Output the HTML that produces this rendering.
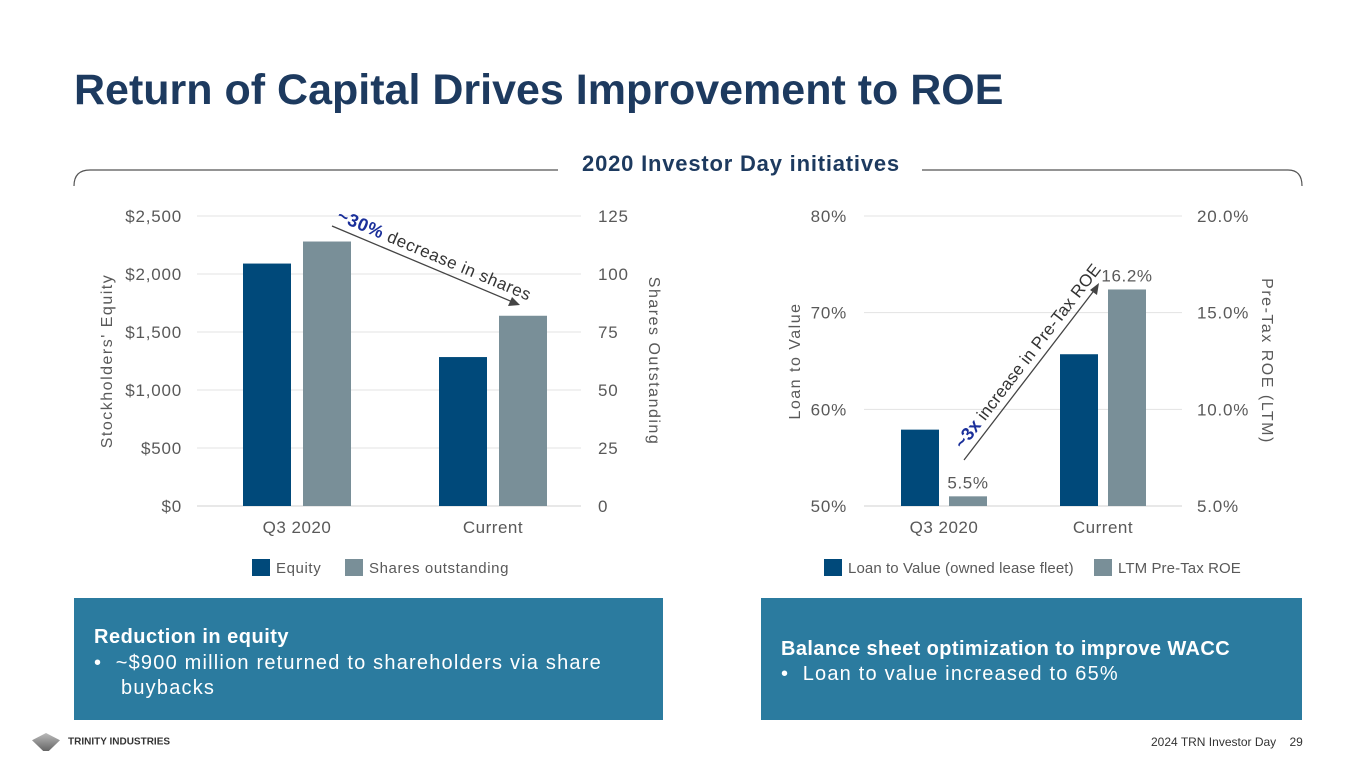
<!DOCTYPE html>
<html><head><meta charset="utf-8"><style>
body{margin:0;width:1365px;height:768px;background:#fff;font-family:"Liberation Sans",sans-serif;overflow:hidden;position:relative}
.t{position:absolute;white-space:nowrap}
</style></head><body>
<div class="t" style="left:74px;top:66px;font-size:43px;font-weight:bold;color:#1d3a5f">Return of Capital Drives Improvement to ROE</div>
<svg width="1365" height="768" style="position:absolute;left:0;top:0" id="s">
<g fill="none" stroke="#555" stroke-width="1.2">
<path d="M74,186 Q74,170 90,170 L558,170"/><path d="M922,170 L1288,170 Q1302,170 1302,186"/>
</g>
<text x="741" y="171" text-anchor="middle" font-size="22" font-weight="bold" letter-spacing="0.8" fill="#1d3a5f">2020 Investor Day initiatives</text>
<g id="c1"></g><g id="c2"></g>
<g>
<line x1="332" y1="226" x2="515" y2="303" stroke="#444" stroke-width="1.3"/>
<polygon points="520,305 508,306 512,297" fill="#444"/>
<text transform="translate(336,220) rotate(22.8)" font-size="17" letter-spacing="0.6" fill="#333"><tspan font-weight="bold" fill="#1a2f9a" font-size="18">~30%</tspan> decrease in shares</text>
</g>
<g>
<line x1="964" y1="460" x2="1096" y2="288" stroke="#444" stroke-width="1.3"/>
<polygon points="1099,283 1097,295 1090,290" fill="#444"/>
<text transform="translate(963,450) rotate(-52.5)" font-size="17" letter-spacing="0.2" fill="#333"><tspan font-weight="bold" fill="#1a2f9a" font-size="18">~3x</tspan> increase in Pre-Tax ROE</text>
</g>
</svg>
<div style="position:absolute;left:74px;top:598px;width:589px;height:122px;background:#2b7b9f;color:#fff;font-size:20px;letter-spacing:1.2px">
<div style="position:absolute;left:20px;top:28px;font-weight:bold;letter-spacing:0.5px">Reduction in equity</div>
<div style="position:absolute;left:20px;top:53px;line-height:25px;white-space:nowrap">•&nbsp;&nbsp;~$900 million returned to shareholders via share<br>&nbsp;&nbsp;&nbsp;&nbsp;buybacks</div></div>
<div style="position:absolute;left:761px;top:598px;width:541px;height:122px;background:#2b7b9f;color:#fff;font-size:20px;letter-spacing:1.2px">
<div style="position:absolute;left:20px;top:40px;font-weight:bold;letter-spacing:0.4px;white-space:nowrap">Balance sheet optimization to improve WACC</div>
<div style="position:absolute;left:20px;top:65px">•&nbsp;&nbsp;Loan to value increased to 65%</div></div>
<div class="t" style="left:32px;top:733px;font-size:10px;font-weight:bold;color:#333"><span style="display:inline-block;width:28px;height:18px;vertical-align:middle;background:linear-gradient(#bbb,#666);clip-path:polygon(0 40%,50% 0,100% 40%,60% 100%,40% 100%);margin-right:8px"></span>TRINITY INDUSTRIES</div>
<div class="t" style="left:1151px;top:735px;font-size:12px;color:#333">2024 TRN Investor Day&nbsp;&nbsp;&nbsp;&nbsp;29</div>
<script>
const cats1=["Q3 2020","Current"];
const equity=[2090,1284];
const shares=[114,82];
const eqTicks=["$0","$500","$1,000","$1,500","$2,000","$2,500"];
const shTicks=["0","25","50","75","100","125"];
const cats2=["Q3 2020","Current"];
const ltv=[57.9,65.7];
const roe=[5.5,16.2];
const ltvTicks=["50%","60%","70%","80%"];
const roeTicks=["5.0%","10.0%","15.0%","20.0%"];
const NS="http://www.w3.org/2000/svg";
function mk(p,t,a,txt){const e=document.createElementNS(NS,t);for(const k in a)e.setAttribute(k,a[k]);if(txt!=null)e.textContent=txt;p.appendChild(e);return e;}
const pTop=216,pBot=506;
// chart 1
const g1=document.getElementById('c1');
const yE=v=>pBot-(v/2500)*(pBot-pTop), yS=v=>pBot-(v/125)*(pBot-pTop);
eqTicks.forEach((t,i)=>{const y=pBot-i*(pBot-pTop)/(eqTicks.length-1);
const l=mk(g1,'line',{x1:197,x2:581,y1:y,y2:y,stroke:i?'#e3e3e3':'#d0d0d0'});


const a=mk(g1,'text',{x:182,y:y+6,'text-anchor':'end','font-size':17,'letter-spacing':0.8,fill:'#595959'},t);


const b=mk(g1,'text',{x:598,y:y+6,'font-size':17,'letter-spacing':0.8,fill:'#595959'},shTicks[i]);

});
const cx1=[297,493];
cats1.forEach((c,i)=>{
const r=mk(g1,'rect',{x:cx1[i]-54,y:yE(equity[i]),width:48,height:pBot-yE(equity[i]),fill:'#00497a'});


const s=mk(g1,'rect',{x:cx1[i]+6,y:yS(shares[i]),width:48,height:pBot-yS(shares[i]),fill:'#798f98'});


const t=mk(g1,'text',{x:cx1[i],y:533,'text-anchor':'middle','font-size':17,'letter-spacing':0.5,fill:'#595959'},c);

});
let e=mk(g1,'text',{transform:'translate(112,361) rotate(-90)','text-anchor':'middle','font-size':16,fill:'#595959','letter-spacing':'1.5'},"Stockholders' Equity");


e=mk(g1,'text',{transform:'translate(649,361) rotate(90)','text-anchor':'middle','font-size':16,fill:'#595959','letter-spacing':'1.5'},"Shares Outstanding");


e=mk(g1,'rect',{x:252,y:559,width:18,height:17,fill:'#00497a'});


e=mk(g1,'text',{x:276,y:573,'font-size':15,'letter-spacing':0.6,fill:'#595959'},'Equity');


e=mk(g1,'rect',{x:345,y:559,width:18,height:17,fill:'#798f98'});


e=mk(g1,'text',{x:369,y:573,'font-size':15,'letter-spacing':0.6,fill:'#595959'},'Shares outstanding');


// chart 2
const g2=document.getElementById('c2');
const yL=v=>pBot-((v-50)/30)*(pBot-pTop), yR=v=>pBot-((v-5)/15)*(pBot-pTop);
ltvTicks.forEach((t,i)=>{const y=pBot-i*(pBot-pTop)/(ltvTicks.length-1);
const l=mk(g2,'line',{x1:864,x2:1182,y1:y,y2:y,stroke:i?'#e3e3e3':'#d0d0d0'});


const a=mk(g2,'text',{x:847,y:y+6,'text-anchor':'end','font-size':17,'letter-spacing':0.8,fill:'#595959'},t);


const b=mk(g2,'text',{x:1197,y:y+6,'font-size':17,'letter-spacing':0.8,fill:'#595959'},roeTicks[i]);

});
const cx2=[944,1103];
cats2.forEach((c,i)=>{
const r=mk(g2,'rect',{x:cx2[i]-43,y:yL(ltv[i]),width:38,height:pBot-yL(ltv[i]),fill:'#00497a'});


const s=mk(g2,'rect',{x:cx2[i]+5,y:yR(roe[i]),width:38,height:pBot-yR(roe[i]),fill:'#798f98'});


const v=mk(g2,'text',{x:cx2[i]+24,y:yR(roe[i])-8,'text-anchor':'middle','font-size':17,'letter-spacing':0.6,fill:'#595959'},roe[i].toFixed(1)+'%');


const t=mk(g2,'text',{x:cx2[i],y:533,'text-anchor':'middle','font-size':17,'letter-spacing':0.5,fill:'#595959'},c);

});
e=mk(g2,'text',{transform:'translate(800,361) rotate(-90)','text-anchor':'middle','font-size':16,fill:'#595959','letter-spacing':'1.5'},"Loan to Value");


e=mk(g2,'text',{transform:'translate(1262,361) rotate(90)','text-anchor':'middle','font-size':16,fill:'#595959','letter-spacing':'1.5'},"Pre-Tax ROE (LTM)");


e=mk(g2,'rect',{x:824,y:559,width:18,height:17,fill:'#00497a'});


e=mk(g2,'text',{x:848,y:573,'font-size':15,'letter-spacing':0.1,fill:'#595959'},'Loan to Value (owned lease fleet)');


e=mk(g2,'rect',{x:1094,y:559,width:18,height:17,fill:'#798f98'});


e=mk(g2,'text',{x:1118,y:573,'font-size':15,'letter-spacing':0.1,fill:'#595959'},'LTM Pre-Tax ROE');


</script>
</body></html>
